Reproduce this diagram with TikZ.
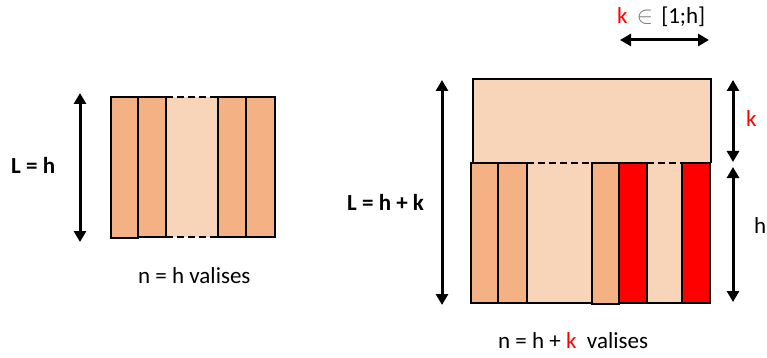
\documentclass[tikz,border=0pt]{standalone}
\usepackage{fontspec}
\setmainfont{Carlito}
\usetikzlibrary{arrows.meta}
\definecolor{darkor}{HTML}{F4B183}
\definecolor{lightor}{HTML}{F8D4B9}
\definecolor{grayin}{HTML}{7F7F7F}
\begin{document}
\begin{tikzpicture}[x=1pt,y=-1pt,
  stripe/.style={draw=black,line width=2.5pt,fill=darkor},
  redstripe/.style={draw=black,line width=2.5pt,fill=red},
  solidedge/.style={draw=black,line width=2.5pt},
  dashedge/.style={draw=black,line width=2.5pt,dash pattern=on 7pt off 4pt},
  dbl/.style={line width=3pt,{Triangle[length=11pt,width=12pt]}-{Triangle[length=11pt,width=12pt]}},
  lbl/.style={font=\fontsize{23}{27}\selectfont,inner sep=0pt,anchor=base west},
  blbl/.style={lbl,font=\fontsize{23}{27}\selectfont\bfseries}]
\useasboundingbox (0,0) rectangle (767,358);

% ---------- left figure ----------
\fill[lightor] (166,97) rectangle (218,237);
\path[stripe] (111,97) rectangle (138,238);
\path[stripe] (138,97) rectangle (166,237);
\path[stripe] (218,97) rectangle (246,237);
\path[stripe] (246,97) rectangle (275,237);
\path[dashedge] (166,97) -- (218,97);
\path[dashedge] (166,237) -- (218,237);

\coordinate (la1) at (80,93);
\coordinate (la2) at (80,242);
\draw[dbl] (la1) -- (la2);
\node[blbl] (Lh) at (11,173) {L = h};
\node[lbl] (nh) at (138,283) {n = h valises};

% ---------- right figure ----------
\fill[lightor] (473,79) rectangle (711,163);
\path[solidedge] (473,163) -- (473,79) -- (711,79) -- (711,163);
\fill[lightor] (527,163) rectangle (592,303);
\fill[lightor] (647,163) rectangle (682,303);
\path[stripe] (471,163) rectangle (498,303);
\path[stripe] (498,163) rectangle (527,303);
\path[solidedge] (527,303) -- (592,303);
\path[dashedge] (527,163) -- (592,163);
\path[stripe] (592,163) rectangle (619,304);
\path[redstripe] (619,163) rectangle (647,303);
\path[solidedge] (647,303) -- (682,303);
\path[dashedge] (647,163) -- (682,163);
\path[redstripe] (682,163) rectangle (710,303);

\coordinate (ba1) at (442,80);
\coordinate (ba2) at (442,305);
\draw[dbl] (ba1) -- (ba2);
\node[blbl] (Lhk) at (347,210) {L = h + k};

\coordinate (ka1) at (733,80);
\coordinate (ka2) at (733,162);
\draw[dbl] (ka1) -- (ka2);
\node[lbl,text=red] (klbl) at (746,127) {k};

\coordinate (ha1) at (733,167);
\coordinate (ha2) at (733,302);
\draw[dbl] (ha1) -- (ha2);
\node[lbl] (hlbl) at (754,233) {h};

\coordinate (ta1) at (620,40);
\coordinate (ta2) at (709,40);
\draw[dbl] (ta1) -- (ta2);
\node[lbl] (krange) at (617,24) {\textcolor{red}{k}\hspace{9pt}\textcolor{grayin}{$\in$}\hspace{8pt}[1;h]};

\node[lbl] (nhk) at (498,348) {n = h + \textcolor{red}{k}\ \ valises};
\end{tikzpicture}
\end{document}
